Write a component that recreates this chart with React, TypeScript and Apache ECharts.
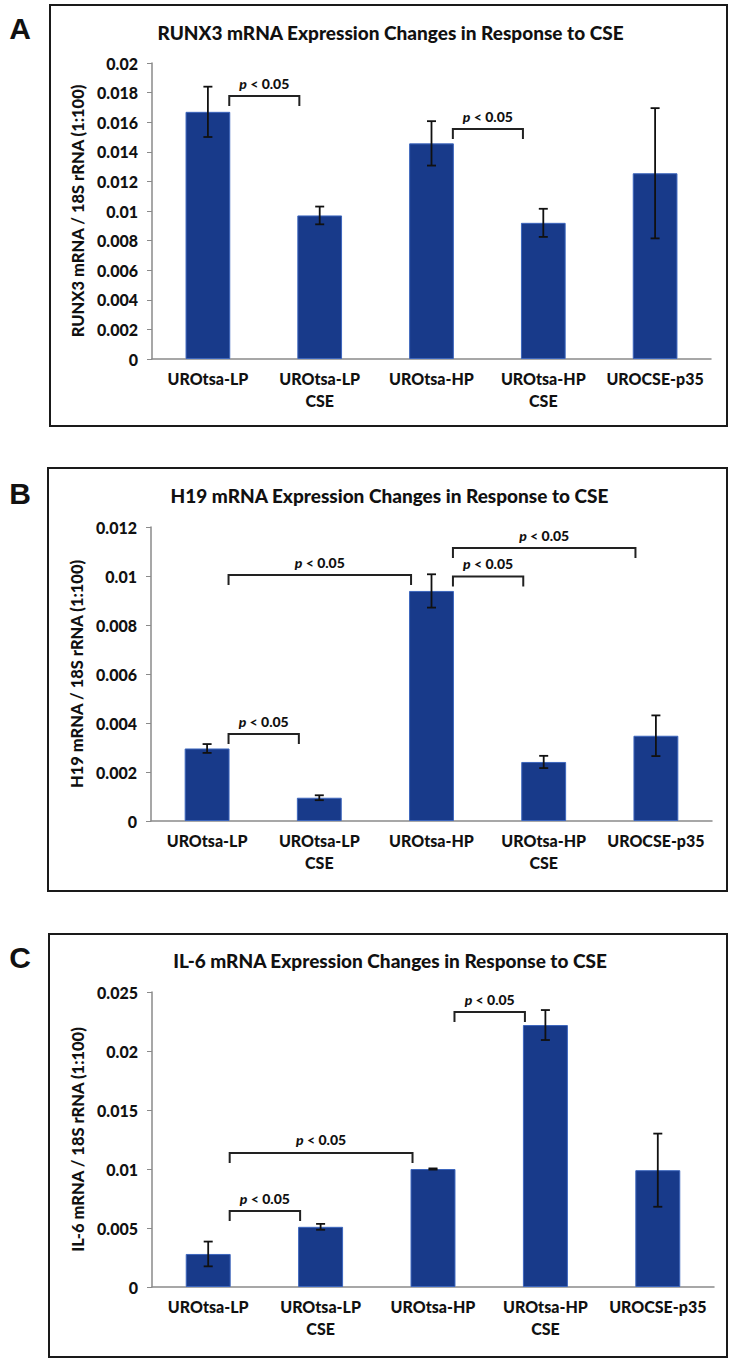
import React, { useEffect, useRef } from 'react';
import * as echarts from 'echarts';

const categories = ['UROtsa-LP', 'UROtsa-LP\nCSE', 'UROtsa-HP', 'UROtsa-HP\nCSE', 'UROCSE-p35'];

const runx3Mean = [0.0167, 0.0097, 0.01457, 0.0092, 0.01255];
const runx3Err = [0.0017, 0.0006, 0.0015, 0.00095, 0.0044];
const runx3Brackets = [[0, 1, 0.01777], [2, 3, 0.01554]];

const h19Mean = [0.00296, 0.00095, 0.00939, 0.00241, 0.00348];
const h19Err = [0.00018, 0.0001, 0.00068, 0.00025, 0.00083];
const h19Brackets = [[0, 1, 0.00355], [0, 2, 0.01004], [2, 3, 0.00998], [2, 4, 0.01114]];

const il6Mean = [0.0028, 0.0051, 0.01, 0.0222, 0.0099];
const il6Err = [0.00105, 0.00025, 0.00005, 0.00127, 0.0031];
const il6Brackets = [[0, 1, 0.00644], [0, 2, 0.01136], [2, 3, 0.0233]];

const titles = [
  'RUNX3 mRNA Expression Changes in Response to CSE',
  'H19 mRNA Expression Changes in Response to CSE',
  'IL-6 mRNA Expression Changes in Response to CSE',
];
const yNames = [
  'RUNX3 mRNA / 18S rRNA (1:100)',
  'H19 mRNA / 18S rRNA (1:100)',
  'IL-6 mRNA / 18S rRNA (1:100)',
];
const yMax = [0.02, 0.012, 0.025];
const yInterval = [0.002, 0.002, 0.005];
const panelLetters = ['A', 'B', 'C'];

const FONT = 'Lato, "Open Sans", sans-serif';
const BAR = '#183a8a';
const BAR_FRAC = 0.4;

const grids = [
  { left: 152, top: 63, width: 559, height: 296 },
  { left: 151, top: 527, width: 561, height: 294 },
  { left: 152, top: 992, width: 562, height: 295 },
];
const boxes = [
  { x: 50, y: 5, w: 677, h: 421 },
  { x: 48, y: 468, w: 679, h: 423 },
  { x: 49, y: 934, w: 678, h: 423 },
];
const titleY = [32, 495, 960];
const letterPos = [[20, 28], [20, 493], [20, 957]];

function fmt(v: number) {
  return String(parseFloat(v.toFixed(4)));
}

export default function App() {
  const ref = useRef<HTMLDivElement>(null);
  useEffect(() => {
    if (!ref.current) return;
    const chart = echarts.init(ref.current, null, { renderer: 'svg' });
    const means = [runx3Mean, h19Mean, il6Mean];
    const errs = [runx3Err, h19Err, il6Err];
    const brackets = [runx3Brackets, h19Brackets, il6Brackets];

    const xAxis: any[] = [];
    const yAxis: any[] = [];
    const series: any[] = [];
    const graphic: any[] = [];

    for (let p = 0; p < 3; p++) {
      xAxis.push({
        type: 'category',
        gridIndex: p,
        data: categories,
        axisLine: { lineStyle: { color: '#8a8a8a', width: 1.5 } },
        axisTick: { show: false },
        axisLabel: {
          interval: 0,
          color: '#111',
          fontFamily: FONT,
          fontWeight: 900,
          fontSize: 16,
          lineHeight: 22,
          margin: 8,
        },
      });
      yAxis.push({
        type: 'value',
        gridIndex: p,
        min: 0,
        max: yMax[p],
        interval: yInterval[p],
        name: yNames[p],
        nameLocation: 'middle',
        nameRotate: 90,
        nameGap: 60,
        nameTextStyle: { color: '#111', fontFamily: FONT, fontWeight: 900, fontSize: 16.5 },
        splitLine: { show: false },
        axisLine: { show: true, lineStyle: { color: '#8a8a8a', width: 1.5 } },
        axisTick: { show: true, length: 5, lineStyle: { color: '#8a8a8a' } },
        axisLabel: {
          color: '#111',
          fontFamily: FONT,
          fontWeight: 900,
          fontSize: 16,
          margin: 14,
          formatter: (v: number) => fmt(v),
        },
      });
      series.push({
        type: 'bar',
        xAxisIndex: p,
        yAxisIndex: p,
        data: means[p],
        barWidth: BAR_FRAC * 100 + '%',
        itemStyle: { color: BAR, borderColor: '#3d66bd', borderWidth: 1 },
        z: 2,
      });
      series.push({
        type: 'custom',
        xAxisIndex: p,
        yAxisIndex: p,
        data: means[p].map((m, i) => [i, m, errs[p][i]]),
        encode: { x: 0, y: 1 },
        z: 5,
        renderItem: (params: any, api: any) => {
          const i = api.value(0);
          const m = api.value(1);
          const e = api.value(2);
          const t = api.coord([i, m + e]);
          const b = api.coord([i, m - e]);
          const hw = 4.5;
          const st = { stroke: '#111', lineWidth: 1.8 };
          return {
            type: 'group',
            children: [
              { type: 'line', shape: { x1: t[0], y1: t[1], x2: b[0], y2: b[1] }, style: st },
              { type: 'line', shape: { x1: t[0] - hw, y1: t[1], x2: t[0] + hw, y2: t[1] }, style: st },
              { type: 'line', shape: { x1: b[0] - hw, y1: b[1], x2: b[0] + hw, y2: b[1] }, style: st },
            ],
          };
        },
      });
      series.push({
        type: 'custom',
        xAxisIndex: p,
        yAxisIndex: p,
        data: brackets[p],
        encode: { x: 0, y: 2 },
        z: 6,
        renderItem: (params: any, api: any) => {
          const from = api.value(0);
          const to = api.value(1);
          const yv = api.value(2);
          const a = api.coord([from, yv]);
          const c = api.coord([to, yv]);
          const band = api.size([1, 0])[0];
          const half = (band * BAR_FRAC) / 2;
          const x1 = a[0] + half - 1;
          const x2 = c[0] - half + 2;
          const y = a[1];
          const leg = 10;
          const st = { stroke: '#222', lineWidth: 2, fill: 'none' };
          return {
            type: 'group',
            children: [
              {
                type: 'polyline',
                shape: { points: [[x1, y + leg], [x1, y], [x2, y], [x2, y + leg]] },
                style: st,
              },
              {
                type: 'text',
                x: (x1 + x2) / 2,
                y: y - 13,
                style: {
                  text: '{i|p} < 0.05',
                  align: 'center',
                  verticalAlign: 'middle',
                  fill: '#111',
                  font: '900 14px ' + FONT,
                  rich: {
                    i: { fontStyle: 'italic', fontWeight: 900, fontSize: 14, fontFamily: FONT, fill: '#111' },
                  },
                },
              },
            ],
          };
        },
      });

      const bx = boxes[p];
      graphic.push({
        type: 'rect',
        shape: { x: bx.x, y: bx.y, width: bx.w, height: bx.h },
        style: { fill: 'none', stroke: '#1a1a1a', lineWidth: 2 },
        silent: true,
      });
      graphic.push({
        type: 'text',
        x: bx.x + bx.w / 2 + 2,
        y: titleY[p],
        style: {
          text: titles[p],
          align: 'center',
          verticalAlign: 'middle',
          fill: '#111',
          font: '900 19px ' + FONT,
        },
      });
      graphic.push({
        type: 'text',
        x: letterPos[p][0],
        y: letterPos[p][1],
        style: {
          text: panelLetters[p],
          align: 'center',
          verticalAlign: 'middle',
          fill: '#111',
          font: 'bold 30px "Liberation Sans", Arial, sans-serif',
        },
      });
    }

    chart.setOption({
      animation: false,
      backgroundColor: '#ffffff',
      grid: grids.map((g) => ({ ...g, containLabel: false })),
      xAxis,
      yAxis,
      series,
      graphic,
    });
    return () => chart.dispose();
  }, []);

  return (
    <div
      ref={ref}
      style={{ position: 'absolute', left: 0, top: 0, width: 735, height: 1363, background: '#fff' }}
    />
  );
}
